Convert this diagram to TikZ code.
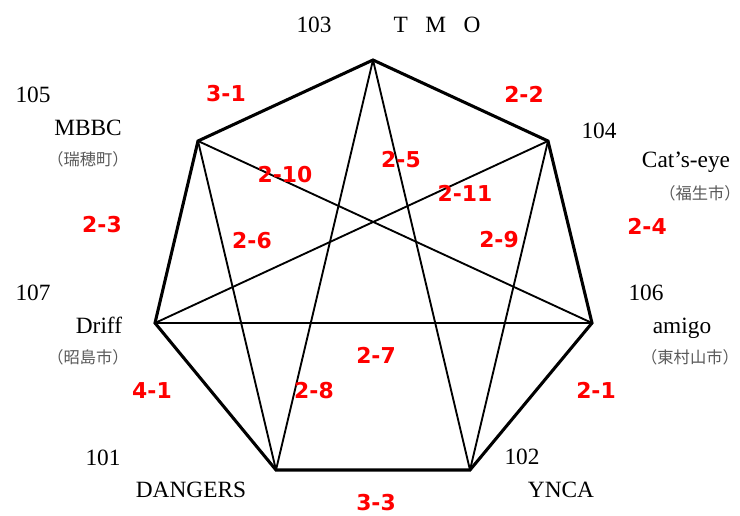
\documentclass[tikz,border=0pt]{standalone}
\usepackage{fontspec}
\setmainfont{Liberation Serif}
\newfontfamily\jpfont{Noto Sans CJK JP}
\newfontfamily\scorefont{DejaVu Sans}
\usetikzlibrary{positioning}

\begin{document}
\begin{tikzpicture}[x=0.75pt, y=-0.75pt]
  \tikzset{
    v/.style={coordinate},
    team/.style={font=\fontsize{17.5}{20}\selectfont, inner sep=0pt, anchor=base},
    town/.style={font=\jpfont\fontsize{12.2}{14}\selectfont, text=black!65, inner sep=0pt},
    score/.style={font=\scorefont\bfseries\fontsize{16.4}{19}\selectfont, text=red, inner sep=0pt},
    rim/.style={line width=2.3pt, line join=miter},
    chord/.style={line width=1.4pt}
  }
  \useasboundingbox (0,0) rectangle (740,515);

  \node[v] (p103) at (373,60) {};
  \node[v] (p104) at (548,141) {};
  \node[v] (p105) at (198,141) {};
  \node[v] (p106) at (592,323) {};
  \node[v] (p107) at (155,323) {};
  \node[v] (p101) at (276,470) {};
  \node[v] (p102) at (470,470) {};

  \draw[chord] (p103) -- (p101);
  \draw[chord] (p103) -- (p102);
  \draw[chord] (p105) -- (p106);
  \draw[chord] (p105) -- (p101);
  \draw[chord] (p104) -- (p107);
  \draw[chord] (p104) -- (p102);
  \draw[chord] (p107) -- (p106);
  \draw[rim] (p103) -- (p104) -- (p106) -- (p102) -- (p101) -- (p107) -- (p105) -- cycle;

  % teams
  \node[team] (l103) at (314,32) {103};
  \node[team] (n103) at (437,32) {T\hspace{0.75em}M\hspace{0.75em}O};
  \node[team] (l105) at (33,102) {105};
  \node[team] (n105) at (88,135) {MBBC};
  \node[town] (c105) at (88,159) {（瑞穂町）};
  \node[team] (l104) at (599,138) {104};
  \node[team] (n104) at (686,167) {Cat’s-eye};
  \node[town] (c104) at (700,193) {（福生市）};
  \node[team] (l107) at (33,300) {107};
  \node[team] (n107) at (99,333) {Driff};
  \node[town] (c107) at (88,357) {（昭島市）};
  \node[team] (l106) at (646,300) {106};
  \node[team] (n106) at (682,333) {amigo};
  \node[town] (c106) at (690,357) {（東村山市）};
  \node[team] (l101) at (103,465) {101};
  \node[team] (n101) at (191,497) {DANGERS};
  \node[team] (l102) at (522,464) {102};
  \node[team] (n102) at (561,497) {YNCA};

  % match numbers
  \node[score] (m31) at (226,94) {3-1};
  \node[score] (m22) at (524,94) {2-2};
  \node[score] (m210) at (285,175) {2-10};
  \node[score] (m25) at (401,160) {2-5};
  \node[score] (m211) at (465,193) {2-11};
  \node[score] (m23) at (102,225) {2-3};
  \node[score] (m26) at (252,241) {2-6};
  \node[score] (m29) at (499,240) {2-9};
  \node[score] (m24) at (647,226) {2-4};
  \node[score] (m27) at (376,355) {2-7};
  \node[score] (m41) at (152,391) {4-1};
  \node[score] (m28) at (314,391) {2-8};
  \node[score] (m21) at (596,390) {2-1};
  \node[score] (m33) at (376,503) {3-3};
\end{tikzpicture}
\end{document}
